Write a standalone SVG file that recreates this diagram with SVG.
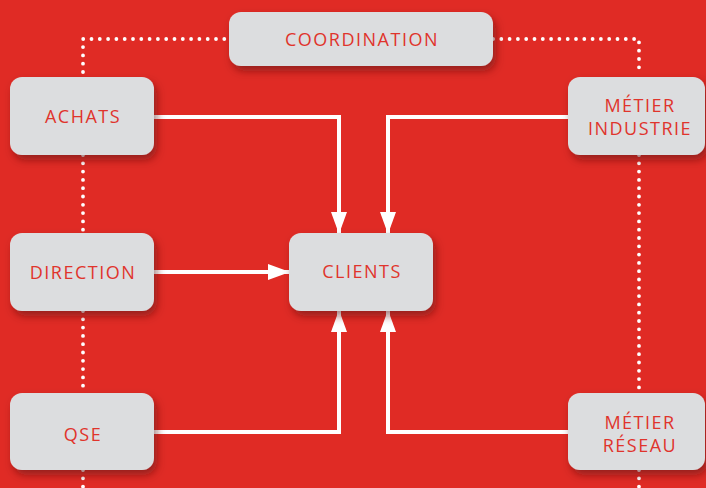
<svg xmlns="http://www.w3.org/2000/svg" width="706" height="488" viewBox="0 0 706 488">
<defs>
<filter id="sh" x="-20%" y="-20%" width="150%" height="160%">
<feDropShadow dx="3" dy="5" stdDeviation="4" flood-color="#5a0d0a" flood-opacity="0.55"/>
</filter>
<marker id="ah" viewBox="0 0 22 16" refX="21" refY="8" markerWidth="22" markerHeight="16" markerUnits="userSpaceOnUse" orient="auto">
<path d="M0,0 L22,8 L0,16 Z" fill="#ffffff"/>
</marker>
</defs>
<style>
.box{fill:#dcdddf;filter:url(#sh)}
.t{font-family:"Open Sans","Liberation Sans",sans-serif;font-size:18px;fill:#e0342c;text-anchor:middle;letter-spacing:1.5px}
.dot{fill:none;stroke:#ffffff;stroke-width:3.8;stroke-linecap:round;stroke-dasharray:0 8.3}
.ar{fill:none;stroke:#ffffff;stroke-width:4;marker-end:url(#ah)}
</style>
<rect width="706" height="488" fill="#e02b25"/>
<g id="connectors">
<path class="dot" d="M83,72 L83,39 L229,39"/>
<path class="dot" d="M493,39 L639,39 L639,72"/>
<path class="dot" d="M83,155 L83,233"/>
<path class="dot" d="M83,311 L83,393"/>
<path class="dot" d="M83,470 L83,490"/>
<path class="dot" d="M639,155 L639,393"/>
<path class="dot" d="M639,470 L639,490"/>
<path class="ar" d="M154,117 L339,117 L339,233"/>
<path class="ar" d="M568,117 L388,117 L388,233"/>
<path class="ar" d="M154,272 L289,272"/>
<path class="ar" d="M154,432 L339,432 L339,311"/>
<path class="ar" d="M568,432 L388,432 L388,311"/>
</g>
<g id="coordination"><rect class="box" x="229" y="12" width="264" height="54" rx="12"/><text class="t" x="362" y="46">COORDINATION</text></g>
<g id="achats"><rect class="box" x="10" y="77" width="144" height="78" rx="12"/><text class="t" x="83" y="123">ACHATS</text></g>
<g id="metier-industrie"><rect class="box" x="568" y="77" width="137" height="78" rx="12"/><text class="t" x="640" y="112">MÉTIER</text><text class="t" x="640" y="135">INDUSTRIE</text></g>
<g id="direction"><rect class="box" x="10" y="233" width="144" height="78" rx="12"/><text class="t" x="83" y="279">DIRECTION</text></g>
<g id="clients"><rect class="box" x="289" y="233" width="144" height="78" rx="12"/><text class="t" x="362" y="278">CLIENTS</text></g>
<g id="qse"><rect class="box" x="10" y="393" width="144" height="77" rx="12"/><text class="t" x="83" y="441">QSE</text></g>
<g id="metier-reseau"><rect class="box" x="568" y="393" width="137" height="77" rx="12"/><text class="t" x="640" y="429">MÉTIER</text><text class="t" x="640" y="452">RÉSEAU</text></g>
</svg>
